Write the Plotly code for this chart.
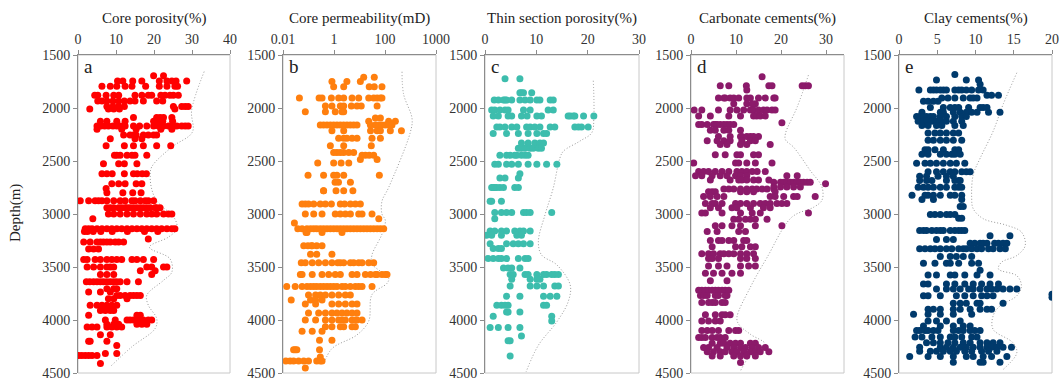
import plotly.graph_objects as go

# ---------------- data (depth in m, values per depth row) ----------------
porosity_rows = [
    (1695, [19.9, 22.5]),
    (1745, [10.4, 11.8, 14.4, 16.8, 21.4, 23.4, 24.7, 25.8, 28.6]),
    (1795, [6.3, 8.5, 10.2, 12.4, 14.2, 17.8, 21.4, 23.4, 25.5, 26.2]),
    (1880, [4.4, 5.2, 7.4, 9.4, 10.7, 15.0, 16.8, 18.5, 19.4, 21.8, 22.9, 24.2, 25.1, 26.4]),
    (1935, [5.2, 6.3, 7.6, 9.2, 10.7, 12.2, 13.7, 15.0, 17.2, 20.7, 22.3]),
    (1985, [7.6, 9.2, 10.7, 12.2, 25.1, 27.3, 28.2, 29.0]),
    (2010, [3.1, 8.0, 9.4, 10.9, 25.5]),
    (2090, [14.6, 20.7, 21.6, 22.5, 24.7]),
    (2125, [5.9, 7.6, 10.2, 12.4, 19.9, 21.0, 22.3, 24.9]),
    (2170, [5.0, 6.0, 7.0, 8.0, 9.2, 10.2, 11.3, 12.4, 14.6, 16.2, 18.1, 19.9, 21.2, 22.5, 23.8, 25.1, 26.0, 27.3, 28.2, 29.0]),
    (2200, [5.0, 11.5, 15.3, 21.8, 24.7]),
    (2255, [12.0, 13.7, 14.6, 15.3, 17.2, 18.5, 19.9, 20.7]),
    (2290, [8.5, 15.0, 16.8]),
    (2355, [7.4, 12.2, 14.6, 17.2, 20.7, 24.4]),
    (2445, [9.6, 10.2, 11.1, 12.9, 14.2, 15.0, 18.1]),
    (2525, [6.7, 10.7, 12.2, 15.5]),
    (2620, [6.3, 7.6, 9.0, 12.2, 14.6, 15.6, 16.9, 18.0]),
    (2715, [8.9, 10.7, 12.4, 15.3, 16.8]),
    (2760, [7.4]),
    (2800, [7.6, 11.8, 14.4, 16.6]),
    (2875, [0.6, 2.8, 4.5, 5.4, 6.3, 7.6, 9.4, 11.1, 12.4, 14.2, 15.0, 16.4, 17.7, 18.5, 19.9]),
    (2940, [7.6, 8.5, 9.4, 10.7, 11.5, 12.4, 12.9, 13.7, 14.6, 15.5, 16.4, 17.2, 18.1, 19.0, 20.3, 20.7, 21.6]),
    (3000, [8.0, 9.4, 11.1, 12.9, 14.6, 16.4, 18.1, 19.4, 20.7, 22.5, 23.8, 24.7]),
    (3045, [3.9]),
    (3140, [1.9, 2.8, 3.7, 5.0, 6.3, 7.6, 8.9, 10.2, 11.5, 12.9, 14.2, 15.5, 16.8, 18.1, 19.4, 20.7, 22.0, 23.4, 24.7, 25.5]),
    (3165, [1.7, 2.5, 4.0, 6.0, 9.0, 13.0, 17.5, 21.0]),
    (3235, [18.5]),
    (3265, [1.5, 3.2, 5.0, 5.9, 6.7, 7.6, 8.5, 9.8, 10.7, 12.0]),
    (3330, [2.8, 4.1, 5.4]),
    (3430, [1.5, 2.4, 4.5, 5.9, 7.6, 8.9, 10.2, 11.5, 14.2, 15.5, 17.2, 19.9]),
    (3500, [2.4, 4.1, 5.9, 7.6, 8.5, 9.4, 18.1, 19.4, 22.5, 23.4]),
    (3535, [16.4, 20.3]),
    (3570, [5.9, 7.6, 9.4, 19.4]),
    (3640, [2.2, 3.1, 4.1, 5.0, 5.9, 6.7, 7.6, 8.5, 9.4, 10.2, 11.1, 12.9, 15.9]),
    (3705, [7.6, 9.4, 10.2]),
    (3735, [2.8, 5.9, 8.5]),
    (3770, [10.2, 11.1, 12.4, 13.7, 14.6, 15.5, 16.4]),
    (3800, [8.0, 9.4, 12.9]),
    (3860, [3.2, 5.0, 6.3, 7.6, 8.9, 10.2]),
    (3910, [5.9, 7.2, 8.5, 9.4]),
    (3955, [2.8, 15.5, 16.4]),
    (4000, [7.2, 9.8, 12.9, 13.7, 14.6, 15.5, 16.4, 17.2, 18.5, 19.4]),
    (4040, [7.6, 9.4, 10.7, 15.5, 16.8, 18.1]),
    (4065, [2.4, 3.7, 5.0, 7.6, 8.9, 10.2, 11.5]),
    (4140, [5.9, 8.5]),
    (4200, [2.8, 3.2, 7.6]),
    (4240, [10.2]),
    (4315, [7.2, 10.2]),
    (4335, [0.2, 1.0, 1.9, 2.8, 3.7, 5.0]),
    (4410, [5.9]),
]
porosity_env_val = [33.2, 29.9, 30.1, 24.7, 19.4, 19.0, 19.4, 20.7, 25.5, 26.0, 23.8, 18.8, 24.2, 24.7, 22.5, 18.1, 18.5, 20.7, 20.3, 14.2, 8.5]
porosity_env_dep = [1657, 2023, 2227, 2368, 2556, 2650, 2765, 2875, 3047, 3140, 3218, 3313, 3422, 3548, 3626, 3767, 3860, 3986, 4080, 4252, 4440]

perm_rows = [
    (1710, [14.6, 38]),
    (1750, [0.83, 3.2, 10.8]),
    (1800, [0.97, 2.4, 24, 38, 76]),
    (1905, [0.044, 0.26, 0.34, 0.79, 1.52, 2.4, 5.1, 9.3, 23, 36, 49, 66, 76]),
    (1980, [0.46, 0.83, 1.77, 2.4, 4.8, 8.0, 11.7, 49]),
    (2035, [0.075, 0.46, 1.12, 2.06, 2.4]),
    (2095, [42, 66]),
    (2125, [23, 139, 255]),
    (2160, [0.29, 0.39, 0.53, 0.72, 0.97, 1.31, 1.77, 2.39, 3.23, 4.37, 5.91, 7.99, 26.7, 42, 57, 76, 103, 139, 188]),
    (2215, [0.83, 2.4, 27, 49, 66, 162, 440]),
    (2285, [1.52, 2.4, 3.2, 5.1, 8.0, 31, 66]),
    (2355, [0.72, 2.4, 29]),
    (2420, [1.3, 2.4, 3.8, 5.9, 0.97, 1.77]),
    (2445, [12.6, 17, 24, 36]),
    (2485, [49, 10.8]),
    (2520, [0.23, 0.97, 1.9, 3.8]),
    (2635, [0.096, 0.39, 0.97, 1.3, 2.4, 60]),
    (2700, [1.5, 4.4, 1.1]),
    (2780, [0.39, 0.39, 1.2, 2.4, 5.5]),
    (2905, [0.056, 0.075, 0.10, 0.16, 0.29, 0.46, 0.79, 1.77, 2.6, 4.4, 6.9, 10.8]),
    (3000, [0.075, 0.16, 0.34, 1.12, 1.77, 2.8, 4.4, 9.3, 12.6, 31]),
    (3044, [57]),
    (3085, [0.028]),
    (3140, [0.038, 0.056, 0.087, 0.12, 0.16, 0.21, 0.29, 0.39, 0.53, 0.72, 0.97, 1.31, 1.77, 2.39, 3.23, 4.37, 5.91, 7.99, 10.8, 14.6, 19.7, 26.7, 36, 49, 66, 89]),
    (3175, [0.08, 0.087, 0.34, 2.06]),
    (3300, [0.13, 0.21, 0.14, 0.065, 0.095, 0.34]),
    (3380, [0.12, 0.21, 0.83]),
    (3460, [0.052, 0.075, 0.14, 0.25, 0.46, 0.83, 1.4, 1.77, 2.4, 4.4, 5.9, 9.3, 12.6, 23, 36]),
    (3570, [1.12, 1.77, 5.1, 8.0, 17, 27, 42, 49, 76, 103, 120, 0.048, 0.056, 0.14, 0.34, 0.62]),
    (3685, [0.014, 0.030, 0.056, 0.087, 0.12, 0.16, 0.21, 0.29, 0.39, 0.53, 0.72, 0.97, 1.31, 2.06, 2.78, 4.37, 6.87, 9.3, 12.6, 31]),
    (3765, [0.10, 0.19, 0.29, 0.46, 0.83, 1.52, 2.78, 4.37]),
    (3812, [0.12, 0.19, 0.34, 0.021]),
    (3850, [0.83, 1.52, 2.78, 5.1, 8.0, 0.075, 0.19]),
    (3935, [0.10, 0.25, 0.46, 0.83, 1.3, 2.06, 3.2, 5.1, 8.0]),
    (4000, [0.075, 0.19, 0.46, 0.83, 1.52, 2.06, 2.78, 5.1, 8.0, 12.6, 6.9]),
    (4064, [0.46, 0.83, 1.77, 2.4, 5.1, 6.9]),
    (4105, [0.14, 0.34, 0.056]),
    (4191, [0.27, 0.83]),
    (4280, [0.026, 0.030, 0.035, 0.27]),
    (4348, [0.29]),
    (4386, [0.013, 0.019, 0.026, 0.041, 0.065, 0.10, 0.21, 0.29, 0.34]),
    (4453, [0.075]),
]
perm_env_val = [466, 537, 1150, 980, 139, 76, 76, 103, 76, 31, 31, 139, 120, 31, 23, 8, 0.83, 0.39]
perm_env_dep = [1658, 1870, 2100, 2230, 2750, 2880, 3000, 3060, 3190, 3385, 3470, 3606, 3654, 3760, 4010, 4140, 4270, 4420]

thin_rows = [
    (1725, [3.9, 6.8]),
    (1855, [7.1, 7.5, 6.8, 9.1]),
    (1925, [1.8, 2.6, 3.6, 3.9, 4.2, 5.2, 6.8, 7.8, 8.8, 10.1, 10.7, 12.7, 13.3]),
    (2020, [1.3, 1.9, 2.9, 3.9, 4.5, 7.5, 8.8, 12.3, 13.3]),
    (2075, [1.6, 2.6, 4.5, 5.2, 7.1, 8.2, 10.1, 11.0, 16.2, 16.6, 17.2, 17.5, 19.2, 21.2]),
    (2180, [2.3, 2.9, 3.9, 5.2, 6.2, 8.1, 8.8, 9.7, 10.7, 12.7, 13.6, 17.5, 18.2, 18.8, 20.1]),
    (2240, [1.6, 4.2, 6.5, 8.4, 10.1, 11.4, 12.0]),
    (2330, [7.1, 8.4, 9.7, 10.7, 11.4]),
    (2380, [6.5, 7.1, 7.8, 8.8, 9.4, 10.4, 11.0]),
    (2445, [5.8, 7.1, 7.8, 8.4, 2.9, 4.2, 4.9, 6.2]),
    (2530, [1.9, 2.6, 4.2, 5.2, 6.5, 8.4, 10.1, 12.0, 14.0]),
    (2620, [6.8]),
    (2660, [6.5, 2.9, 3.9]),
    (2750, [5.8, 1.9, 1.3, 1.6, 2.3, 2.9, 3.6, 6.5]),
    (2880, [1.0, 1.3, 3.2]),
    (2985, [1.9, 3.2, 4.2, 5.2, 7.5, 8.1, 8.8, 13.0]),
    (3045, [1.9]),
    (3160, [1.0, 1.9, 3.2, 4.2, 5.8, 6.8, 7.5, 8.8]),
    (3200, [0.3, 1.3, 3.2, 6.2, 7.1]),
    (3280, [1.0, 4.2, 5.5, 6.5, 7.5, 8.8]),
    (3325, [1.6, 2.6, 3.2]),
    (3420, [0.6, 1.6, 2.6, 3.2, 4.2, 6.5, 7.8, 8.4]),
    (3510, [3.6, 4.5, 5.2, 6.8]),
    (3570, [13.6, 12.0, 11.4, 10.1, 13.0, 14.3, 7.8, 8.4, 4.9, 5.5]),
    (3615, [10.1, 8.8, 10.7, 5.2]),
    (3680, [4.9, 8.8, 10.1, 11.4, 13.6, 14.3]),
    (3775, [4.2, 6.8, 11.4, 12.7, 14.0]),
    (3860, [2.3, 3.2, 3.9, 4.5, 11.4, 12.0]),
    (3925, [4.2, 6.8, 4.5]),
    (3965, [1.6, 13.0]),
    (4010, [13.0]),
    (4070, [1.0, 2.6, 4.5, 6.8]),
    (4150, [7.1]),
    (4195, [4.9, 4.5]),
    (4340, [4.9]),
]
thin_env_val = [21.1, 21.2, 20.8, 18.5, 15.3, 14.6, 13.3, 11.7, 10.4, 11.0, 14.0, 16.6, 16.2, 14.0, 10.4, 8.0]
thin_env_dep = [1743, 2090, 2233, 2312, 2406, 2470, 2754, 3006, 3259, 3385, 3480, 3670, 3828, 4017, 4238, 4490]

carb_rows = [
    (1705, [15.8]),
    (1790, [12.3, 17.3, 18.0, 24.7, 25.4, 26.1, 6.5, 8.4]),
    (1830, [12.4]),
    (1905, [8.7, 9.5, 7.6, 7.3, 6.1, 12.4, 13.2, 15.0, 16.5, 18.4, 18.7, 10.6]),
    (1960, [9.5, 12.4, 14.3, 13.6]),
    (2020, [0.7, 2.4, 6.1, 8.7, 10.2, 11.7, 13.2, 13.9, 15.0, 16.1, 16.9, 18.0, 18.7]),
    (2075, [1.7, 4.3, 8.4, 11.0, 13.9, 14.6, 15.4, 16.5]),
    (2140, [20.2]),
    (2155, [1.7, 2.4, 3.6, 5.0, 5.4, 5.8, 6.5, 7.3, 8.0, 8.7, 9.5]),
    (2210, [4.3, 5.4, 7.3, 8.4, 11.0]),
    (2270, [6.1, 8.7, 11.0, 11.3, 12.4, 13.2, 13.9, 15.0]),
    (2310, [3.6, 5.8, 7.3, 8.7, 11.3, 13.2, 14.3]),
    (2345, [6.5, 8.0, 11.0, 12.4, 17.6]),
    (2440, [5.4, 7.6, 10.2, 11.0, 13.9, 15.0]),
    (2520, [0.6, 9.9, 10.6, 12.4, 14.3, 18.0]),
    (2600, [1.7, 2.8, 3.9, 5.4, 6.9, 8.4, 10.2, 11.3, 12.4, 13.6, 14.7, 16.5]),
    (2640, [1.0, 2.4, 4.7, 6.5, 8.0, 9.9, 11.0, 12.4, 21.3, 23.6]),
    (2680, [4.3, 8.7, 10.6, 11.3, 12.4, 13.9, 15.0, 17.3]),
    (2700, [18.4, 19.9, 20.6, 21.3, 22.1, 22.8, 23.6, 24.3, 25.0, 25.8, 26.5]),
    (2715, [29.9]),
    (2745, [18.4, 19.9, 21.3, 22.8, 24.3]),
    (2765, [7.3, 8.4, 9.5, 11.0, 12.4, 13.6, 14.6, 15.8, 16.9, 18.4]),
    (2790, [3.9, 4.7, 5.4, 11.0, 12.4, 13.9, 18.7]),
    (2835, [2.8, 4.3, 5.8, 7.3, 17.6, 18.7, 20.6, 22.8, 23.6, 27.6]),
    (2900, [3.2, 4.7, 5.4, 6.9, 9.9, 11.0, 12.4, 13.9, 15.4, 16.5, 17.6, 19.1, 20.2, 21.3]),
    (2940, [4.3, 6.1, 9.1, 10.2, 13.2, 16.1, 17.6]),
    (2990, [2.4, 3.2, 6.9, 11.0, 13.6, 15.4, 26.1]),
    (3050, [9.5, 10.6, 12.1, 13.2, 14.3, 16.9]),
    (3110, [9.1, 11.0, 14.3, 20.2, 5.4, 6.9]),
    (3165, [3.6, 5.8, 10.6, 12.1]),
    (3250, [4.3, 6.1, 6.9, 8.4, 9.5, 11.7, 12.4]),
    (3310, [4.7, 9.9, 11.3, 13.2, 14.3]),
    (3375, [2.4, 3.9, 5.0, 6.5, 7.3, 8.4, 9.5, 11.0, 12.4, 13.9]),
    (3420, [3.9, 4.7, 6.1, 11.0, 12.4, 14.3]),
    (3490, [3.9, 6.1, 8.0, 11.0, 12.8, 14.3]),
    (3560, [3.2, 5.0, 6.9, 9.1, 11.0]),
    (3630, [4.3, 8.0]),
    (3720, [1.7, 2.4, 3.2, 3.9, 4.7, 5.4, 6.1, 6.9, 7.6, 8.4]),
    (3770, [2.1, 2.8, 3.6, 5.4, 6.1, 7.6, 8.0]),
    (3835, [2.4, 3.9, 4.7, 5.4, 6.9, 7.6]),
    (3950, [3.2, 5.4, 6.9, 7.6, 8.7]),
    (4010, [2.4, 3.9, 5.4, 6.5]),
    (4100, [2.4, 3.6, 4.7, 6.1, 8.4, 9.9, 10.6]),
    (4165, [1.7, 2.4, 3.2, 4.7, 5.8, 6.5, 7.6]),
    (4220, [4.7, 6.5, 7.3, 8.7, 9.9, 11.0, 13.2, 14.3]),
    (4260, [2.8, 3.9, 5.8, 8.0, 9.5, 11.0, 12.1, 13.6, 15.0, 16.5]),
    (4300, [3.6, 5.0, 6.5, 7.6, 9.1, 10.2, 11.7, 13.2, 14.3, 15.4, 17.3]),
    (4340, [4.7, 6.5, 9.5, 11.0, 12.4, 14.3]),
    (4400, [11.0]),
]
carb_env_val = [26.1, 23.6, 21.0, 21.0, 22.8, 26.5, 29.1, 29.1, 27.3, 22.4, 16.9, 13.2, 10.2, 10.6, 13.2, 16.5, 12.8, 11.0]
carb_env_dep = [1690, 1990, 2240, 2300, 2370, 2590, 2745, 2870, 2935, 3030, 3410, 3690, 3977, 4040, 4135, 4230, 4355, 4480]

clay_rows = [
    (1683, [7.3]),
    (1735, [4.9, 8.8, 10.4]),
    (1775, [10.6]),
    (1830, [2.6, 4.1, 4.5, 4.9, 5.4, 5.8, 6.2, 7.3, 7.8, 8.2, 8.8, 9.5, 10.4, 11.0]),
    (1880, [11.5, 12.1, 13.0]),
    (1905, [5.6, 6.4, 7.3, 8.4, 9.3, 9.7, 10.2]),
    (1937, [3.2, 3.8, 4.5, 5.1]),
    (1995, [4.1, 5.8, 6.7, 7.3, 7.8, 9.1, 10.6, 11.0, 11.5]),
    (2040, [3.0, 5.4, 5.8, 7.1, 8.0, 8.8, 9.5, 10.2, 11.7, 13.2]),
    (2080, [2.3, 2.7, 3.2, 3.6, 4.1, 4.5, 5.4, 6.2, 7.3, 8.2, 8.8]),
    (2125, [2.5, 3.2, 3.6, 4.3, 4.9, 5.6, 6.2, 7.1, 8.2]),
    (2165, [3.0, 3.8, 4.9, 5.6, 7.3, 8.4]),
    (2237, [3.8, 4.7, 5.4, 6.2, 7.1, 7.8]),
    (2305, [3.8, 4.5, 5.4, 6.2, 7.1, 8.2]),
    (2395, [3.4, 3.8, 4.7, 5.8, 7.3, 7.8]),
    (2437, [3.0, 3.8, 5.4, 6.2, 6.9, 7.3, 8.0]),
    (2522, [2.3, 3.4, 4.1, 4.9, 5.8, 6.7, 7.5, 8.6]),
    (2601, [3.8, 4.9, 5.8, 6.7, 7.3, 8.2, 8.8, 9.3]),
    (2645, [2.7, 3.6, 5.1, 6.2, 7.1]),
    (2685, [2.7, 3.6, 4.3, 6.2, 7.3, 7.8, 8.0]),
    (2747, [2.5, 3.2, 3.8, 4.5, 5.4, 6.2, 7.3, 7.8, 8.2]),
    (2823, [1.7, 3.4, 3.8, 4.5, 5.4, 6.7, 7.3, 8.2]),
    (2864, [3.0, 4.5, 8.2]),
    (2930, [8.0, 8.4]),
    (3005, [4.1, 4.7, 5.4, 6.2, 6.7, 7.3]),
    (3040, [7.8, 8.2]),
    (3155, [2.7, 3.2, 3.6, 4.3, 4.9, 5.4, 5.8, 6.7, 7.3, 7.8, 8.2, 8.6]),
    (3205, [11.9, 14.5]),
    (3240, [4.9, 6.2, 7.1]),
    (3275, [9.3, 9.9, 10.6, 11.0, 11.5, 12.5, 13.0, 13.6, 14.1]),
    (3329, [2.7, 3.4, 4.1, 4.7, 5.4, 6.2, 6.9, 7.8, 8.4, 8.8, 9.5, 10.2, 10.8, 11.7, 12.3, 13.2, 13.9]),
    (3401, [5.4, 6.7, 7.5, 8.4, 9.5]),
    (3465, [3.2, 4.7, 6.2, 6.7, 7.8, 9.5, 10.4]),
    (3530, [10.6]),
    (3576, [3.8, 4.9, 6.7, 7.3, 8.6, 10.2, 11.9]),
    (3661, [3.2, 3.8, 6.2, 7.3, 8.6, 9.7, 10.8, 11.9, 13.0]),
    (3708, [4.9, 6.2, 7.1, 8.0, 9.1, 9.7, 10.6, 11.5, 12.1, 12.8, 13.6, 14.5, 15.4]),
    (3758, [20.0]),
    (3772, [3.2, 3.8, 5.4, 7.5, 8.6, 9.7, 10.8, 11.5, 12.3]),
    (3785, [20.0]),
    (3841, [7.1, 8.0, 8.8, 10.2, 10.6, 13.6]),
    (3898, [3.8, 4.5, 5.4, 7.1, 8.0, 9.3, 10.6, 11.5, 12.1]),
    (3946, [1.9, 3.8, 5.4, 7.1, 9.5]),
    (4009, [3.8, 4.9, 6.2, 8.0]),
    (4057, [3.2, 5.4, 7.1, 8.4, 9.3]),
    (4098, [2.3, 2.7, 3.4, 3.8, 4.5, 5.1, 7.1, 7.8, 8.4, 9.3, 9.9, 10.6]),
    (4161, [2.1, 3.0, 4.3, 5.4, 6.7, 7.3, 8.2, 9.5, 10.2]),
    (4215, [3.6, 4.5, 5.4, 6.4, 7.3, 8.4, 9.3, 10.6, 11.5, 12.3, 13.2]),
    (4256, [2.7, 5.4, 6.2, 7.1, 8.0, 8.8, 9.7, 10.6, 11.5, 12.1, 12.8, 13.6, 14.7]),
    (4294, [2.7, 4.1, 4.9, 5.8, 6.7, 7.5, 8.6, 9.5, 10.8, 11.7, 12.8]),
    (4344, [1.4, 3.8, 5.4, 7.1, 8.8, 9.7, 11.0, 12.1, 14.1]),
    (4398, [7.1, 10.6, 11.0, 13.2]),
]
clay_env_val = [15.4, 13.6, 12.3, 10.6, 9.7, 9.5, 9.7, 11.0, 14.1, 16.0, 16.5, 15.4, 13.4, 13.0, 15.4, 16.0, 15.4, 13.2, 12.3, 12.3, 14.9, 15.4, 13.6]
clay_env_dep = [1668, 1968, 2220, 2475, 2630, 2850, 2950, 3044, 3107, 3170, 3297, 3392, 3455, 3519, 3582, 3677, 3772, 3867, 3962, 4088, 4215, 4310, 4468]

titles = ["Core porosity(%)", "Core permeability(mD)", "Thin section porosity(%)", "Carbonate cements(%)", "Clay cements(%)"]
letters = ["a", "b", "c", "d", "e"]
colors = ["#FF0000", "#FF7F0E", "#3DBDAD", "#8B1A6A", "#003A6C"]
depth_ticks = [1500, 2000, 2500, 3000, 3500, 4000, 4500]

# ---------------- layout geometry ----------------
W, H = 1060, 381
x_px = [(78, 230), (283, 436), (485, 639), (691, 844), (899, 1052)]
y_top, y_bot = 55, 373

panels = [
    (porosity_rows, porosity_env_val, porosity_env_dep),
    (perm_rows, perm_env_val, perm_env_dep),
    (thin_rows, thin_env_val, thin_env_dep),
    (carb_rows, carb_env_val, carb_env_dep),
    (clay_rows, clay_env_val, clay_env_dep),
]

xaxis_cfg = [
    dict(range=[0, 40], tickvals=[0, 10, 20, 30, 40]),
    dict(type="log", range=[-2, 4], tickvals=[0.01, 1, 100, 10000], ticktext=["0.01", "1", "100", "1000"]),
    dict(range=[0, 30], tickvals=[0, 10, 20, 30]),
    dict(range=[0, 34], tickvals=[0, 10, 20, 30]),
    dict(range=[0, 20], tickvals=[0, 5, 10, 15, 20]),
]

FONT = "Liberation Serif"
fig = go.Figure()
layout = dict(
    width=W, height=H, margin=dict(l=0, r=0, t=0, b=0, autoexpand=False),
    paper_bgcolor="white", plot_bgcolor="white", showlegend=False,
    font=dict(family=FONT, color="#333333"),
)
annotations = []
shapes = []
ydom = [(H - y_bot) / H, (H - y_top) / H]

for i, (rows, ev, ed) in enumerate(panels):
    xs, ys = [], []
    for d, vals in rows:
        for v in vals:
            xs.append(v)
            ys.append(d)
    sfx = "" if i == 0 else str(i + 1)
    xa, ya = "x" + sfx, "y" + sfx
    fig.add_trace(go.Scatter(x=ev, y=ed, mode="lines", xaxis=xa, yaxis=ya,
                             line=dict(color="#9a9a9a", width=1, dash="1px,2px", shape="spline", smoothing=1.0),
                             hoverinfo="skip"))
    fig.add_trace(go.Scatter(x=xs, y=ys, mode="markers", xaxis=xa, yaxis=ya,
                             marker=dict(color=colors[i], size=7, line=dict(width=0))))
    x0, x1 = x_px[i]
    xcfg = dict(domain=[x0 / W, x1 / W], anchor=ya, side="top", showgrid=False, zeroline=False,
                showline=True, linecolor="#8c8c8c", linewidth=1, ticks="outside", ticklen=4,
                tickcolor="#8c8c8c", automargin=False,
                tickfont=dict(family=FONT, size=14, color="#333333"))
    xcfg.update(xaxis_cfg[i])
    ycfg = dict(domain=ydom, anchor=xa, range=[4500, 1500], tickvals=depth_ticks, showgrid=False,
                zeroline=False, showline=True, linecolor="#8c8c8c", linewidth=1, ticks="outside",
                ticklen=4, tickcolor="#8c8c8c", automargin=False,
                tickfont=dict(family=FONT, size=14, color="#333333"))
    layout["xaxis" + sfx] = xcfg
    layout["yaxis" + sfx] = ycfg
    shapes.append(dict(type="rect", xref=xa + " domain", yref=ya + " domain", x0=0, x1=1, y0=0, y1=1,
                       line=dict(color="#c8c8c8", width=1), layer="below"))
    annotations.append(dict(text=titles[i], x=(x0 + x1) / 2 / W, y=1 - 18 / H, xref="paper", yref="paper",
                            showarrow=False, xanchor="center", yanchor="middle",
                            font=dict(family=FONT, size=15, color="#222222")))
    annotations.append(dict(text=letters[i], x=(x0 + 4) / W, y=1 - 66 / H, xref="paper", yref="paper",
                            showarrow=False, xanchor="left", yanchor="middle",
                            font=dict(family=FONT, size=19, color="#222222")))

annotations.append(dict(text="Depth(m)", x=15 / W, y=1 - 213 / H, xref="paper", yref="paper",
                        showarrow=False, textangle=-90, xanchor="center", yanchor="middle",
                        font=dict(family=FONT, size=15, color="#222222")))
layout["annotations"] = annotations
layout["shapes"] = shapes
fig.update_layout(**layout)
fig.write_html("out.html")
